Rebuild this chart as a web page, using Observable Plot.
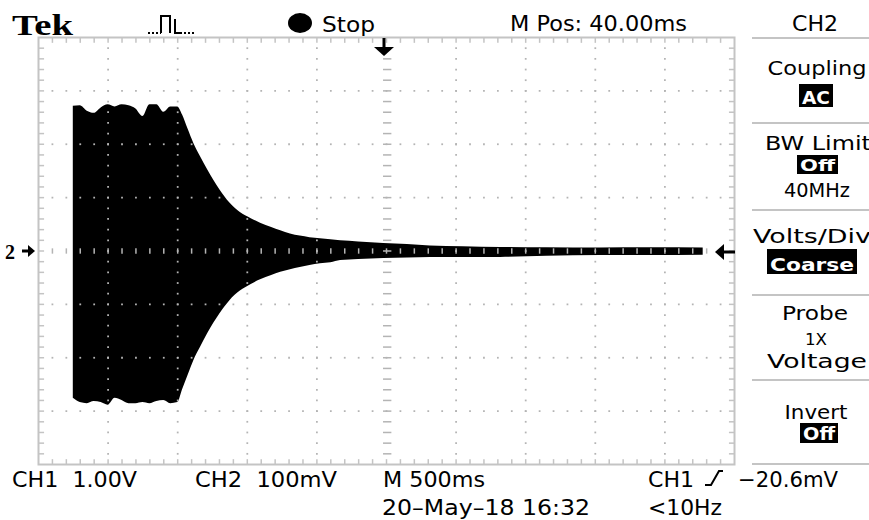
<!DOCTYPE html>
<html>
<head>
<meta charset="utf-8">
<script src="https://cdn.jsdelivr.net/npm/d3@7"></script>
<script src="https://cdn.jsdelivr.net/npm/@observablehq/plot@0.6"></script>
<style>
  html, body { margin: 0; padding: 0; background: #fff; }
  #chart svg { display: block; }
</style>
</head>
<body>
<div id="chart"></div>
<script>
// Time in divisions (0..10), envelope in vertical divisions (-4..4)
const tDiv = [0.50,0.60,0.70,0.80,0.90,1.00,1.10,1.20,1.30,1.40,1.50,1.60,1.70,1.80,1.90,2.00,
  2.07,2.15,2.23,2.33,2.43,2.52,2.61,2.75,2.90,3.05,3.19,3.35,3.48,3.62,3.76,3.90,4.05,4.20,4.34,4.60,4.96,5.30,5.63,6.10,6.64,7.30,8.07,8.80,9.55];
const envTop = [2.71,2.72,2.62,2.58,2.68,2.74,2.70,2.74,2.72,2.66,2.52,2.74,2.74,2.60,2.70,2.70,
  2.55,2.28,2.02,1.76,1.52,1.32,1.14,0.90,0.72,0.61,0.52,0.44,0.38,0.32,0.28,0.25,0.23,0.21,0.19,0.17,0.14,0.12,0.094,0.08,0.066,0.06,0.056,0.06,0.056];
const envBottom = [-2.76,-2.84,-2.86,-2.82,-2.84,-2.89,-2.76,-2.80,-2.86,-2.86,-2.84,-2.86,-2.82,-2.80,-2.86,-2.84,
  -2.60,-2.33,-2.06,-1.80,-1.55,-1.35,-1.17,-0.93,-0.75,-0.63,-0.54,-0.46,-0.40,-0.35,-0.31,-0.27,-0.24,-0.22,-0.18,-0.16,-0.14,-0.13,-0.12,-0.12,-0.12,-0.10,-0.085,-0.085,-0.08];

const topLabels = ["Tek", "Stop", "M Pos: 40.00ms"];
const panelTitle = "CH2";
const panelLabels = ["Coupling", "BW Limit", "40MHz", "Volts/Div", "Probe", "1X", "Voltage", "Invert"];
const panelBoxes = ["AC", "Off", "Coarse", "Off"];
const bottomLabels = ["CH1  1.00V", "CH2  100mV", "M 500ms", "20\u2013May\u201318 16:32", "CH1", "\u221220.6mV", "<10Hz"];

const env = tDiv.map((t, i) => ({t, hi: envTop[i], lo: envBottom[i]}));

// graticule helpers
const gridDots = [];
for (let i = 1; i <= 9; i++) if (i !== 5) for (let k = 1; k < 40; k++) gridDots.push({x: i, y: -4 + k * 0.2});
for (let j = -3; j <= 3; j++) if (j !== 0) for (let k = 1; k < 50; k++) gridDots.push({x: k * 0.2, y: j});
const vMinor = d3.range(1, 40).map(k => -4 + k * 0.2);
const hMinor = d3.range(1, 50).map(k => k * 0.2);

const W = 869, H = 520;
const grey = "#c4c4c4";
const svg = Plot.plot({
  width: W, height: H,
  marginLeft: 38, marginRight: W - 734, marginTop: 37, marginBottom: H - 464,
  x: {domain: [0, 10], axis: null},
  y: {domain: [-4, 4], axis: null},
  style: {background: "#fff", overflow: "visible"},
  marks: [
    Plot.areaY(env, {x: "t", y1: "lo", y2: "hi", fill: "black", curve: "monotone-x"}),
    Plot.dot(gridDots, {x: "x", y: "y", r: 1, fill: "#b4b4b4", symbol: "square"}),
    Plot.link(vMinor, {x1: 4.95, x2: 5.07, y1: d => d, y2: d => d, stroke: "#b4b4b4", strokeWidth: 1.5}),
    Plot.link(hMinor, {x1: d => d, x2: d => d, y1: -0.05, y2: 0.05, stroke: "#b4b4b4", strokeWidth: 1.5}),
    Plot.link(vMinor, {x1: 0, x2: 0.08, y1: d => d, y2: d => d, stroke: grey, strokeWidth: 1.5}),
    Plot.link(vMinor, {x1: 10, x2: 9.92, y1: d => d, y2: d => d, stroke: grey, strokeWidth: 1.5}),
    Plot.link(hMinor, {x1: d => d, x2: d => d, y1: 4, y2: 3.9, stroke: grey, strokeWidth: 1.5}),
    Plot.link(hMinor, {x1: d => d, x2: d => d, y1: -4, y2: -3.9, stroke: grey, strokeWidth: 1.5}),
    Plot.frame({stroke: grey, strokeWidth: 2})
  ]
});
document.getElementById("chart").appendChild(svg);

const g = d3.select(svg).append("g").attr("font-family", "'DejaVu Sans', sans-serif").attr("fill", "black");
function txt(s, x, y, opts = {}) {
  const t = g.append("text").attr("x", x).attr("y", y).text(s)
    .attr("font-size", opts.size || 21)
    .attr("text-anchor", opts.anchor || "start");
  if (opts.len) t.attr("textLength", opts.len).attr("lengthAdjust", "spacingAndGlyphs");
  if (opts.family) t.attr("font-family", opts.family);
  if (opts.weight) t.attr("font-weight", opts.weight);
  if (opts.fill) t.attr("fill", opts.fill);
  return t;
}

// top bar
txt(topLabels[0], 12, 35, {family: "'Liberation Serif', serif", weight: "bold", size: 30, len: 61});
g.append("path").attr("d", "M148,33 H161").attr("stroke", "black").attr("stroke-width", 2).attr("stroke-dasharray", "2,2").attr("fill", "none");
g.append("path").attr("d", "M161,33 V16 H170 V33 M175,19 V33 H180").attr("stroke", "black").attr("stroke-width", 2).attr("fill", "none");
g.append("path").attr("d", "M180,33 H196").attr("stroke", "black").attr("stroke-width", 2).attr("stroke-dasharray", "2,2").attr("fill", "none");
g.append("ellipse").attr("cx", 300).attr("cy", 23).attr("rx", 12).attr("ry", 10).attr("fill", "black");
txt(topLabels[1], 322, 32, {len: 53});
txt(topLabels[2], 510, 31, {len: 177});

// right panel
txt(panelTitle, 815, 31, {anchor: "middle", len: 46});
const seps = [38, 123, 210, 295, 380, 464];
seps.forEach(y => g.append("line").attr("x1", 752).attr("x2", W).attr("y1", y).attr("y2", y).attr("stroke", grey).attr("stroke-width", 2));
// [text, x, baseline, width, anchor, size]
const lab = [[panelLabels[0], 817, 75, 99, "middle", 19], [panelLabels[1], 765, 150, 106, "start", 19], [panelLabels[2], 817, 197, 66, "middle", 19],
  [panelLabels[3], 753, 243, 118, "start", 19], [panelLabels[4], 815, 320, 66, "middle", 19], [panelLabels[5], 816, 345, 22, "middle", 15],
  [panelLabels[6], 817, 368, 100, "middle", 19], [panelLabels[7], 816, 419, 63, "middle", 19]];
lab.forEach(([s, x, y, len, anchor, size]) => txt(s, x, y, {anchor, len, size}));
const boxes = [[panelBoxes[0], 799, 84, 34, 23], [panelBoxes[1], 797, 155, 41, 19], [panelBoxes[2], 767, 249, 90, 25], [panelBoxes[3], 800, 423, 38, 20]];
boxes.forEach(([s, x, y, w, h]) => {
  g.append("rect").attr("x", x).attr("y", y).attr("width", w).attr("height", h).attr("fill", "black");
  txt(s, x + w / 2, y + h - 3, {anchor: "middle", fill: "white", weight: "bold", size: Math.min(18, h - 3), len: w - 6});
});

// markers
g.append("text").attr("x", 10).attr("y", 259).text("2").attr("font-size", 20).attr("font-weight", "bold").attr("font-family", "'Liberation Serif', serif");
g.append("path").attr("d", "M22,251 H31").attr("stroke", "black").attr("stroke-width", 3);
g.append("path").attr("d", "M28,245 L35,251 L28,257 Z").attr("fill", "black");
g.append("path").attr("d", "M384,38 V48").attr("stroke", "black").attr("stroke-width", 3);
g.append("path").attr("d", "M374,47 L394,47 L384,56 Z").attr("fill", "black");
g.append("path").attr("d", "M722,252 H735").attr("stroke", "black").attr("stroke-width", 3);
g.append("path").attr("d", "M724,244 L715,252 L724,260 Z").attr("fill", "black");

// bottom
txt(bottomLabels[0], 12, 487, {len: 125});
txt(bottomLabels[1], 195, 487, {len: 142});
txt(bottomLabels[2], 383, 487, {len: 102});
txt(bottomLabels[3], 382, 515, {len: 208});
txt(bottomLabels[4], 648, 487, {len: 46});
g.append("path").attr("d", "M705,485 H711 L719,471 H723").attr("stroke", "black").attr("stroke-width", 2).attr("fill", "none");
txt(bottomLabels[5], 738, 487, {len: 100});
txt(bottomLabels[6], 648, 515, {len: 74});
</script>
</body>
</html>
